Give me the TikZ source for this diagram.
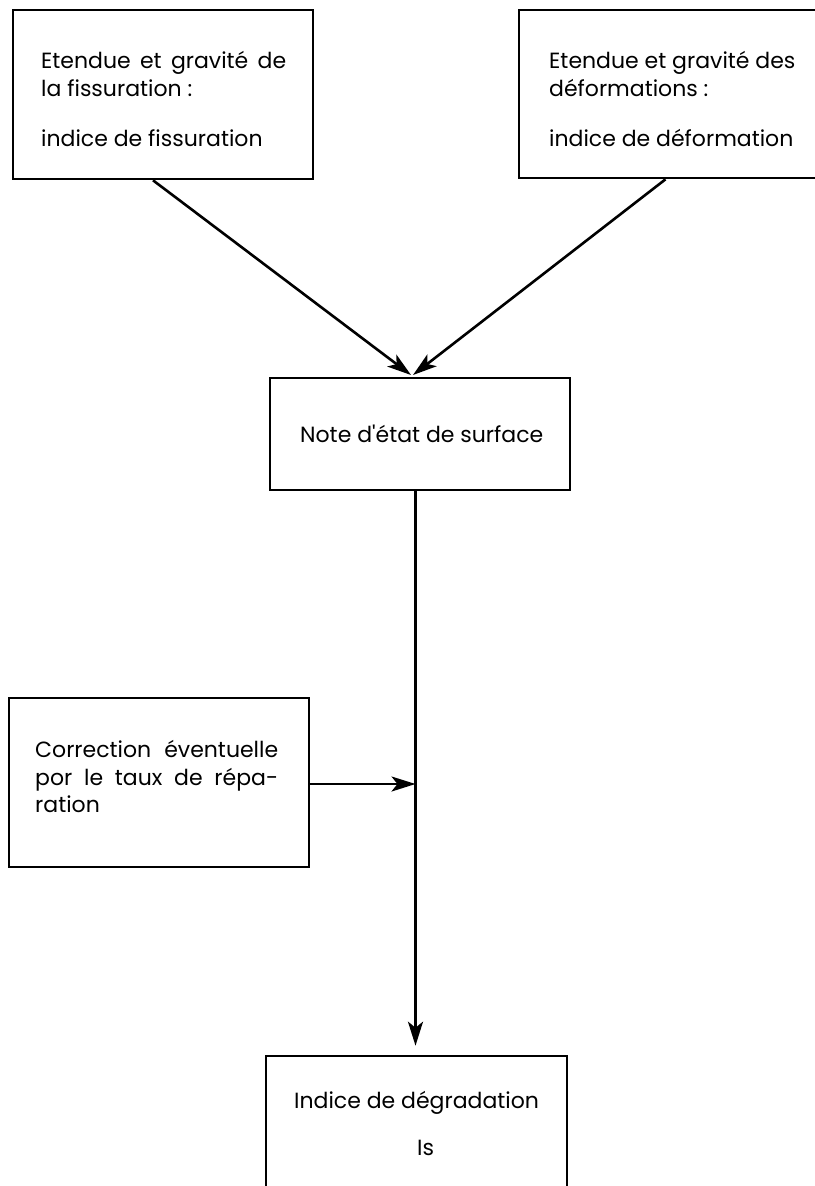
\documentclass[tikz,border=0pt]{standalone}
\usepackage{fontspec}
\setmainfont{Poppins}
\usetikzlibrary{arrows.meta}
\begin{document}
\begin{tikzpicture}[x=1pt,y=-1pt,
  box/.style={draw, line width=2.6pt, inner sep=0pt},
  txt/.style={anchor=base west, inner sep=0pt, font=\fontsize{22}{26}\selectfont},
  arr/.style={line width=2.6pt, -{Stealth[length=24pt,width=15pt,inset=6pt]}},
  conn/.style={line width=2.6pt}]
\useasboundingbox (0,0) rectangle (814,1186);
% boxes
\node[box, minimum width=300pt, minimum height=169pt] (b1) at (163,94.5) {};
\node[box, minimum width=299pt, minimum height=168pt] (b2) at (668.5,94) {};
\node[box, minimum width=300pt, minimum height=112pt] (b3) at (420,434) {};
\node[box, minimum width=300pt, minimum height=169pt] (b4) at (159,782.5) {};
\node[box, minimum width=301pt, minimum height=144pt] (b5) at (416.5,1128) {};
% texts
\node[txt] (t11) at (41,68) {\makebox[245pt][s]{Etendue et gravité de}};
\node[txt] (t12) at (41,96) {la fissuration :};
\node[txt] (t13) at (41,146) {indice de fissuration};
\node[txt] (t21) at (549,68) {Etendue et gravité des};
\node[txt] (t22) at (549,96) {déformations :};
\node[txt] (t23) at (549,146) {indice de déformation};
\node[txt] (t3) at (300,442) {Note d\textquotesingle état de surface};
\node[txt] (t41) at (35,757) {\makebox[243pt][s]{Correction éventuelle}};
\node[txt] (t42) at (35,785) {\makebox[243pt][s]{por le taux de répa-}};
\node[txt] (t43) at (35,812) {ration};
\node[txt] (t51) at (294,1108) {Indice de dégradation};
\node[txt] (t52) at (417,1155) {Is};
% connectors
\coordinate (m1) at (411,375);
\coordinate (m2) at (413,375);
\coordinate (j) at (415.5,784);
\draw[arr] ([xshift=-10pt]b1.south) -- (m1);
\draw[arr] ([xshift=-3pt]b2.south) -- (m2);
\draw[conn] (b3.south -| j) -- (j);
\draw[arr] (b4.east |- j) -- (j);
\draw[arr, shorten >=9pt] (j) -- (j |- b5.north);
\end{tikzpicture}
\end{document}
